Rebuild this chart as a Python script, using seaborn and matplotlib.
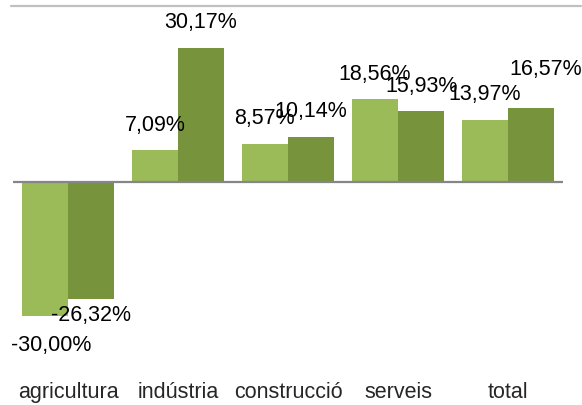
import matplotlib
matplotlib.use("Agg")
import matplotlib.pyplot as plt
from matplotlib.lines import Line2D
import pandas as pd
import seaborn as sns

# Variació per sectors (%), dues sèries
sectors = ["agricultura", "indústria", "construcció", "serveis", "total"]
serie_a = [-30.00, 7.09, 8.57, 18.56, 13.97]
serie_b = [-26.32, 30.17, 10.14, 15.93, 16.57]
series_names = ["sèrie A", "sèrie B"]

LIGHT = "#9BBB59"
DARK = "#77933C"

df = pd.DataFrame({
    "sector": sectors * 2,
    "valor": serie_a + serie_b,
    "serie": [series_names[0]] * len(sectors) + [series_names[1]] * len(sectors),
})

sns.set_style("white")
plt.rcParams["font.family"] = ["Liberation Sans", "DejaVu Sans"]
FS = 15.5

W, H = 582, 405
fig = plt.figure(figsize=(W / 100, H / 100), dpi=100)

# plot area in pixels: x 13..563, y 13..372 ; zero line at y=182
px_per_unit = 4.45
top_px, bottom_px, zero_px = 13, 372, 182
ax = fig.add_axes([13 / W, (H - bottom_px) / H, 550 / W, (bottom_px - top_px) / H])

sns.barplot(data=df, x="sector", y="valor", hue="serie", order=sectors,
            hue_order=series_names, palette=[LIGHT, DARK], width=0.84,
            saturation=1, legend=False, linewidth=0, ax=ax)

ax.set_xlim(-0.5, len(sectors) - 0.5)
ax.set_ylim(-(bottom_px - zero_px) / px_per_unit, (zero_px - top_px) / px_per_unit)
ax.axhline(0, color="#868686", lw=1.6, zorder=3)

for s in ax.spines.values():
    s.set_visible(False)
ax.set_yticks([])
ax.set_xlabel("")
ax.set_ylabel("")
ax.tick_params(axis="x", length=0, pad=7, labelsize=FS)
ax.set_xticks(range(len(sectors)))
ax.set_xticklabels(sectors)

def fmt(v):
    return f"{v:.2f}".replace(".", ",") + "%"

# label nudges in pixels (dx, dy) for a few labels placed by hand
nudges = {(1, 4): (15, 14), (1, 0): (0, -9), (0, 0): (6, 5)}

for si, (container, values) in enumerate(zip(ax.containers, [serie_a, serie_b])):
    for ci, (bar, v) in enumerate(zip(container, values)):
        xc = bar.get_x() + bar.get_width() / 2
        dx, dy = nudges.get((si, ci), (0, 0))
        base = 25 if v >= 0 else -25
        ax.annotate(fmt(v), xy=(xc, v), xytext=(dx, base + dy if v >= 0 else base - dy),
                    textcoords="offset pixels", ha="center", va="center",
                    fontsize=FS, color="black", annotation_clip=False)

# thin frame line along the top of the chart
fig.add_artist(Line2D([11 / W, 581 / W], [(H - 6) / H] * 2, color="#C0C0C0",
                      lw=1.6, transform=fig.transFigure))

fig.savefig("out.png", dpi=100)
